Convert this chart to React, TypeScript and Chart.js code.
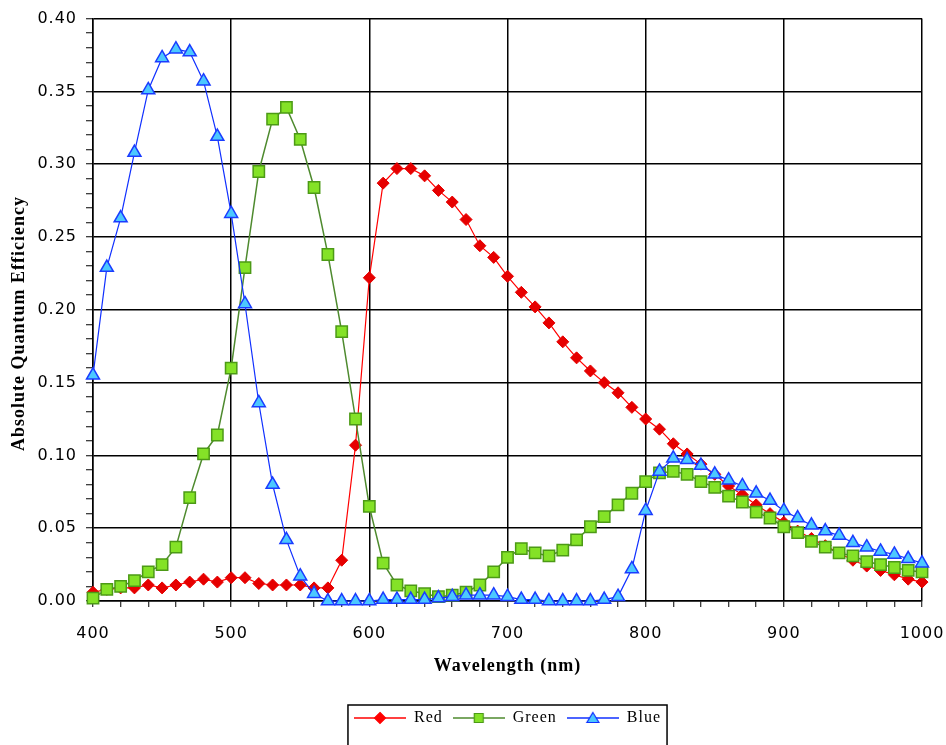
import React, { useEffect, useRef } from "react";
import { Chart, registerables } from "chart.js";

Chart.register(...registerables);

const wavelengths = [
  400, 410, 420, 430, 440, 450, 460, 470, 480, 490,
  500, 510, 520, 530, 540, 550, 560, 570, 580, 590,
  600, 610, 620, 630, 640, 650, 660, 670, 680, 690,
  700, 710, 720, 730, 740, 750, 760, 770, 780, 790,
  800, 810, 820, 830, 840, 850, 860, 870, 880, 890,
  900, 910, 920, 930, 940, 950, 960, 970, 980, 990,
  1000,
];

const redQE = [
  0.006, 0.008, 0.009, 0.009, 0.011, 0.009, 0.011, 0.013, 0.015, 0.013,
  0.016, 0.016, 0.012, 0.011, 0.011, 0.011, 0.009, 0.009, 0.028, 0.107,
  0.222, 0.287, 0.297, 0.297, 0.292, 0.282, 0.274, 0.262, 0.244, 0.236,
  0.223, 0.212, 0.202, 0.191, 0.178, 0.167, 0.158, 0.150, 0.143, 0.133,
  0.125, 0.118, 0.108, 0.101, 0.094, 0.087, 0.079, 0.073, 0.066, 0.060,
  0.054, 0.048, 0.043, 0.038, 0.033, 0.028, 0.024, 0.021, 0.018, 0.015,
  0.013,
];

const greenQE = [
  0.002, 0.008, 0.010, 0.014, 0.020, 0.025, 0.037, 0.071, 0.101, 0.114,
  0.160, 0.229, 0.295, 0.331, 0.339, 0.317, 0.284, 0.238, 0.185, 0.125,
  0.065, 0.026, 0.011, 0.007, 0.005, 0.003, 0.004, 0.006, 0.011, 0.020,
  0.030, 0.036, 0.033, 0.031, 0.035, 0.042, 0.051, 0.058, 0.066, 0.074,
  0.082, 0.088, 0.089, 0.087, 0.082, 0.078, 0.072, 0.068, 0.061, 0.057,
  0.051, 0.047, 0.041, 0.037, 0.033, 0.031, 0.027, 0.025, 0.023, 0.021,
  0.020,
];

const blueQE = [
  0.155, 0.229, 0.263, 0.308, 0.351, 0.373, 0.379, 0.377, 0.357, 0.319,
  0.266, 0.204, 0.136, 0.080, 0.042, 0.017, 0.005, 0.000, 0.000, 0.000,
  0.000, 0.001, 0.001, 0.001, 0.001, 0.002, 0.003, 0.004, 0.004, 0.004,
  0.003, 0.001, 0.001, 0.000, 0.000, 0.000, 0.000, 0.001, 0.003, 0.022,
  0.062, 0.089, 0.098, 0.097, 0.093, 0.087, 0.083, 0.079, 0.074, 0.069,
  0.062, 0.057, 0.052, 0.048, 0.045, 0.040, 0.037, 0.034, 0.032, 0.029,
  0.026,
];

const seriesNames = ["Red", "Green", "Blue"];
const xTitle = "Wavelength (nm)";
const yTitle = "Absolute Quantum Efficiency";

const RED = "#FF0000";
const GREEN_LINE = "#4E8A2E";
const GREEN_FILL = "#84E227";
const GREEN_EDGE = "#4C9A16";
const BLUE_LINE = "#1030FF";
const BLUE_FILL = "#4CC8FF";

function makeSample(kind: string, line: string, fill: string, edge: string) {
  const c = document.createElement("canvas");
  c.width = 52;
  c.height = 16;
  const g = c.getContext("2d")!;
  g.strokeStyle = line;
  g.lineWidth = 1.5;
  g.beginPath();
  g.moveTo(0, 8);
  g.lineTo(52, 8);
  g.stroke();
  g.fillStyle = fill;
  g.strokeStyle = edge;
  g.lineWidth = 1.2;
  g.beginPath();
  if (kind === "diamond") {
    g.moveTo(26, 2.5);
    g.lineTo(31.5, 8);
    g.lineTo(26, 13.5);
    g.lineTo(20.5, 8);
    g.closePath();
  } else if (kind === "square") {
    g.rect(21.5, 3.5, 9, 9);
  } else {
    g.moveTo(26, 2.5);
    g.lineTo(32, 12.5);
    g.lineTo(20, 12.5);
    g.closePath();
  }
  g.fill();
  g.stroke();
  return c;
}

const isMajorY = (v: number) => Math.round(v * 100) % 5 === 0;
const isMajorX = (v: number) => Math.round(v) % 100 === 0;

export default function App() {
  const ref = useRef<HTMLCanvasElement>(null);

  useEffect(() => {
    document.body.style.margin = "0";
    const samples = [
      makeSample("diamond", RED, RED, RED),
      makeSample("square", GREEN_LINE, GREEN_FILL, GREEN_EDGE),
      makeSample("triangle", BLUE_LINE, BLUE_FILL, BLUE_LINE),
    ];

    const spacingPlugin = {
      id: "spacing",
      beforeUpdate(chart: any) {
        chart.ctx.letterSpacing = "1px";
      },
      beforeDraw(chart: any) {
        chart.ctx.letterSpacing = "1px";
        const { ctx, width, height } = chart;
        ctx.save();
        ctx.fillStyle = "#fff";
        ctx.fillRect(0, 0, width, height);
        ctx.restore();
      },
    };

    const legendBox = {
      id: "legendBox",
      afterDraw(chart: any) {
        const hb = chart.legend && chart.legend.legendHitBoxes;
        if (!hb || !hb.length) return;
        const left = Math.min(...hb.map((h: any) => h.left)) - 6;
        const right = Math.max(...hb.map((h: any) => h.left + h.width)) + 6;
        const top = hb[0].top - 5;
        const ctx = chart.ctx;
        ctx.save();
        ctx.strokeStyle = "#000";
        ctx.lineWidth = 1.5;
        ctx.strokeRect(left, top, right - left, 100);
        ctx.restore();
      },
    };

    const tickFont = { family: "DejaVu Sans", size: 16 };
    const titleFont = { family: "Liberation Serif", size: 18, weight: "bold" as const };

    const chart = new Chart(ref.current!, {
      type: "line",
      data: {
        datasets: [
          {
            label: seriesNames[0],
            data: wavelengths.map((w, i) => ({ x: w, y: redQE[i] })),
            borderColor: RED,
            backgroundColor: RED,
            borderWidth: 1.2,
            pointStyle: "rectRot",
            pointRadius: 6,
            pointBackgroundColor: "#E60000",
            pointBorderColor: "#E60000",
            pointBorderWidth: 1,
            clip: false,
            order: 3,
          },
          {
            label: seriesNames[1],
            data: wavelengths.map((w, i) => ({ x: w, y: greenQE[i] })),
            borderColor: GREEN_LINE,
            backgroundColor: GREEN_FILL,
            borderWidth: 1.5,
            pointStyle: "rect",
            pointRadius: 8,
            pointBackgroundColor: GREEN_FILL,
            pointBorderColor: GREEN_EDGE,
            pointBorderWidth: 1.5,
            clip: false,
            order: 2,
          },
          {
            label: seriesNames[2],
            data: wavelengths.map((w, i) => ({ x: w, y: blueQE[i] })),
            borderColor: BLUE_LINE,
            backgroundColor: BLUE_FILL,
            borderWidth: 1.2,
            pointStyle: "triangle",
            pointRadius: 7.5,
            pointBackgroundColor: BLUE_FILL,
            pointBorderColor: "#1A3CFF",
            pointBorderWidth: 1.5,
            clip: false,
            order: 1,
          },
        ],
      },
      options: {
        responsive: false,
        animation: false,
        devicePixelRatio: 1,
        events: [],
        layout: { padding: { top: 18, right: 24, bottom: 9, left: 0 } },
        plugins: {
          tooltip: { enabled: false },
          legend: {
            position: "bottom",
            fullSize: false,
            labels: {
              usePointStyle: true,
              pointStyleWidth: 52,
              padding: 10,
              color: "#000",
              font: { family: "Liberation Serif", size: 16 },
              generateLabels: () =>
                seriesNames.map((name, i) => ({
                  text: name,
                  pointStyle: samples[i] as any,
                  fillStyle: "rgba(0,0,0,0)",
                  strokeStyle: "rgba(0,0,0,0)",
                  lineWidth: 0,
                  hidden: false,
                  datasetIndex: i,
                  fontColor: "#000",
                })),
            },
          },
        },
        scales: {
          x: {
            type: "linear",
            min: 400,
            max: 1000,
            afterFit: (s: any) => {
              s.height = 99;
              s.paddingLeft = 22;
              s.paddingRight = 22;
            },
            ticks: {
              stepSize: 20,
              autoSkip: false,
              maxRotation: 0,
              minRotation: 0,
              padding: 17,
              color: "#000",
              font: tickFont,
              callback: (v: any) => (isMajorX(Number(v)) ? String(v) : ""),
            },
            grid: {
              color: (c: any) => (c.tick && isMajorX(c.tick.value) ? "#000" : "rgba(0,0,0,0)"),
              lineWidth: 1.5,
              tickColor: "#000",
              tickLength: 6,
              tickWidth: 1,
            },
            border: { display: true, color: "#000", width: 1.5 },
            title: {
              display: true,
              text: xTitle,
              color: "#000",
              font: titleFont,
              padding: { top: 0, bottom: 23 },
            },
          },
          y: {
            type: "linear",
            min: 0,
            max: 0.4,
            afterFit: (s: any) => {
              s.width = 93;
            },
            ticks: {
              stepSize: 0.01,
              autoSkip: false,
              padding: 9,
              color: "#000",
              font: tickFont,
              callback: (v: any) => (isMajorY(Number(v)) ? Number(v).toFixed(2) : ""),
            },
            grid: {
              color: (c: any) => (c.tick && isMajorY(c.tick.value) ? "#000" : "rgba(0,0,0,0)"),
              lineWidth: 1.5,
              tickColor: "#000",
              tickLength: 7,
              tickWidth: 1,
            },
            border: { display: true, color: "#000", width: 1.5 },
            title: {
              display: true,
              text: yTitle + "     ",
              color: "#000",
              font: titleFont,
              padding: { top: 9, bottom: 0 },
            },
          },
        },
      },
      plugins: [spacingPlugin, legendBox],
    } as any);

    return () => chart.destroy();
  }, []);

  return (
    <div style={{ width: 946, height: 745 }}>
      <canvas ref={ref} width={946} height={745} style={{ display: "block" }} />
    </div>
  );
}
